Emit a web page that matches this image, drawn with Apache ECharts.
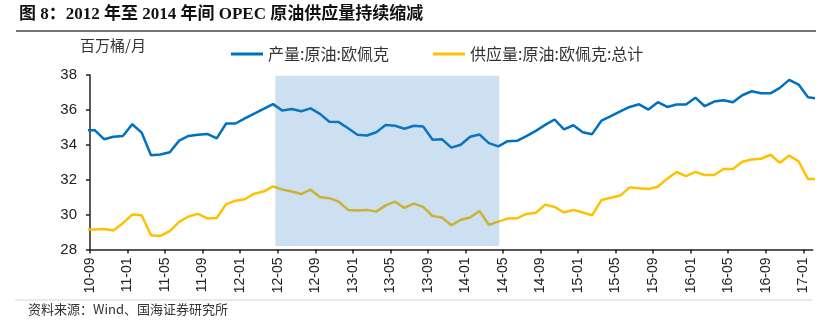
<!DOCTYPE html>
<html>
<head>
<meta charset="utf-8">
<script src="https://cdn.jsdelivr.net/npm/echarts@6/dist/echarts.min.js"></script>
<style>html,body{margin:0;padding:0;background:#fff;}#c{width:816px;height:326px;}</style>
</head>
<body>
<div id="c"></div>
<script>
const months = ['10-08','10-09','10-10','10-11','10-12',
'11-01','11-02','11-03','11-04','11-05','11-06','11-07','11-08','11-09','11-10','11-11','11-12',
'12-01','12-02','12-03','12-04','12-05','12-06','12-07','12-08','12-09','12-10','12-11','12-12',
'13-01','13-02','13-03','13-04','13-05','13-06','13-07','13-08','13-09','13-10','13-11','13-12',
'14-01','14-02','14-03','14-04','14-05','14-06','14-07','14-08','14-09','14-10','14-11','14-12',
'15-01','15-02','15-03','15-04','15-05','15-06','15-07','15-08','15-09','15-10','15-11','15-12',
'16-01','16-02','16-03','16-04','16-05','16-06','16-07','16-08','16-09','16-10','16-11','16-12',
'17-01','17-02'];

const output = [34.84,34.84,34.32,34.46,34.50,35.18,34.70,33.40,33.44,33.57,34.24,34.51,34.58,34.62,34.37,
35.22,35.22,35.51,35.79,36.06,36.33,35.96,36.05,35.92,36.09,35.77,35.32,35.30,34.95,34.57,34.53,34.72,35.14,
35.09,34.92,35.09,35.05,34.29,34.32,33.84,34.00,34.46,34.59,34.10,33.91,34.21,34.23,34.50,34.80,35.14,35.45,
34.88,35.12,34.72,34.61,35.39,35.64,35.92,36.17,36.32,36.02,36.44,36.17,36.31,36.31,36.70,36.21,36.48,36.55,
36.44,36.84,37.07,36.95,36.95,37.26,37.72,37.45,36.72,36.65];

const supply = [29.14,29.14,29.18,29.09,29.51,30.00,29.96,28.82,28.78,29.05,29.58,29.89,30.04,29.78,29.81,
30.59,30.80,30.88,31.20,31.32,31.62,31.43,31.32,31.18,31.43,31.01,30.94,30.74,30.27,30.23,30.27,30.17,30.53,
30.74,30.38,30.63,30.44,29.92,29.83,29.39,29.70,29.83,30.21,29.41,29.60,29.77,29.79,30.04,30.10,30.57,30.44,
30.12,30.27,30.12,29.96,30.84,30.97,31.09,31.56,31.51,31.47,31.60,32.06,32.44,32.21,32.45,32.27,32.27,32.61,
32.61,33.03,33.16,33.20,33.43,32.97,33.39,33.05,32.04,32.04];

const tickLabels = ['10-09','11-01','11-05','11-09','12-01','12-05','12-09','13-01','13-05','13-09',
'14-01','14-05','14-09','15-01','15-05','15-09','16-01','16-05','16-09','17-01'];

const yTicks = [28, 30, 32, 34, 36, 38];
const seriesNames = ['产量:原油:欧佩克', '供应量:原油:欧佩克:总计'];
const unitLabel = '百万桶/月';
const titleText = '图 8：2012 年至 2014 年间 OPEC 原油供应量持续缩减';
const sourceText = '资料来源：Wind、国海证券研究所';

// position on axis: month boundary index, point at month centre
const pos = (i) => i - 0.5;
const tickVals = tickLabels.map(l => months.indexOf(l) - 1);

const chart = echarts.init(document.getElementById('c'), null, {renderer: 'canvas'});
const sansCJK = '"Noto Sans CJK SC", "Noto Sans", sans-serif';
const latin = '"Liberation Sans", Arial, sans-serif';

chart.setOption({
  animation: false,
  backgroundColor: '#fff',
  grid: {left: 90, right: 3.3, top: 75, bottom: 76.5, containLabel: false},
  legend: [
    {data: [seriesNames[0]], left: 231, top: 46, padding: 0, itemWidth: 32, itemHeight: 3, icon: 'rect',
     textStyle: {fontSize: 16, color: '#333', fontFamily: sansCJK}},
    {data: [seriesNames[1]], left: 433, top: 46, padding: 0, itemWidth: 32, itemHeight: 3, icon: 'rect',
     textStyle: {fontSize: 16, color: '#333', fontFamily: sansCJK}}
  ],
  xAxis: {
    type: 'value', min: 0, max: months.length - 2,
    axisLine: {onZero: false, lineStyle: {color: '#222', width: 1.5}},
    axisTick: {show: true, inside: false, length: 4, customValues: tickVals, lineStyle: {color: '#222', width: 1.5}},
    axisLabel: {rotate: 90, margin: 8, fontSize: 14, color: '#222', fontFamily: latin,
      customValues: tickVals, formatter: v => months[Math.round(v) + 1]},
    splitLine: {show: false}
  },
  yAxis: {
    type: 'value', min: yTicks[0], max: yTicks[yTicks.length - 1], interval: 2,
    axisLine: {show: true, lineStyle: {color: '#222', width: 1.5}},
    axisTick: {show: true, inside: false, length: 4, lineStyle: {color: '#222', width: 1.5}},
    axisLabel: {margin: 13, fontSize: 15, color: '#222', fontFamily: latin},
    splitLine: {show: false}
  },
  series: [
    {name: seriesNames[0], type: 'line', symbol: 'none', clip: true,
     lineStyle: {width: 2.5, color: '#0070C0'}, itemStyle: {color: '#0070C0'},
     data: output.map((v, i) => [pos(i), v]),
     markArea: {silent: true, z: 5,
       itemStyle: {color: 'rgba(51,131,199,0.25)'},
       data: [[{coord: [19.75, 37.95]}, {coord: [43.6, 28.2]}]]}},
    {name: seriesNames[1], type: 'line', symbol: 'none', clip: true,
     lineStyle: {width: 2.5, color: '#FFC000'}, itemStyle: {color: '#FFC000'},
     data: supply.map((v, i) => [pos(i), v])}
  ],
  graphic: [
    {type: 'text', left: 19, top: 6, style: {text: titleText, fontSize: 17, fontWeight: 'bold', fill: '#111',
      fontFamily: '"Liberation Serif", "Noto Sans CJK SC", serif'}},
    {type: 'line', shape: {x1: 16, y1: 31, x2: 816, y2: 31}, style: {stroke: '#444', lineWidth: 1.5}},
    {type: 'text', left: 80, top: 38, style: {text: unitLabel, fontSize: 15, fill: '#333', fontFamily: sansCJK}},
    {type: 'line', shape: {x1: 15, y1: 300, x2: 812, y2: 300}, style: {stroke: '#d4d4d4', lineWidth: 1}},
    {type: 'text', left: 28, top: 303, style: {text: sourceText, fontSize: 13, fill: '#333', fontFamily: sansCJK}}
  ]
});
</script>
</body>
</html>
